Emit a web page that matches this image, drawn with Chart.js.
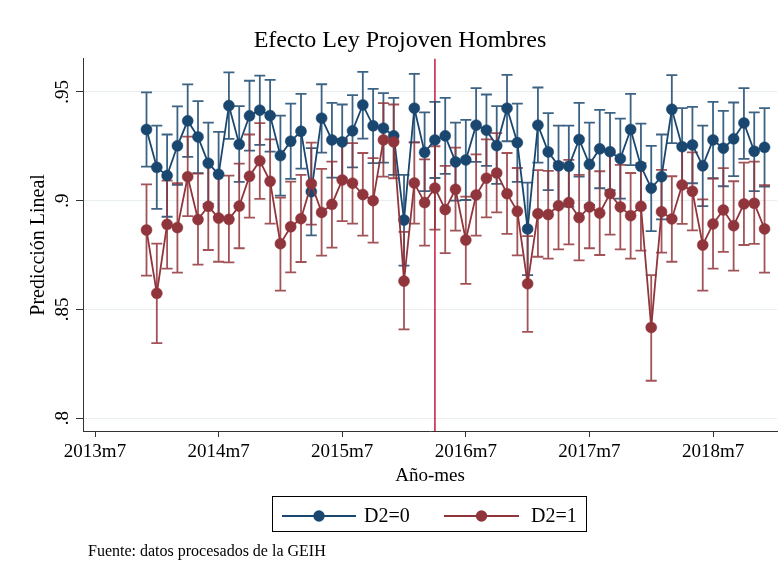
<!DOCTYPE html>
<html><head><meta charset="utf-8">
<script src="https://cdn.jsdelivr.net/npm/chart.js@4/dist/chart.umd.min.js"></script>
<style>html,body{margin:0;padding:0;background:#fff;overflow:hidden}canvas{display:block}</style>
</head><body>
<canvas id="c" width="784" height="581"></canvas>
<script>
// ---------------- data ----------------
const monthLabels = [
 "2013m12","2014m1","2014m2","2014m3","2014m4","2014m5","2014m6","2014m7","2014m8","2014m9","2014m10","2014m11","2014m12",
 "2015m1","2015m2","2015m3","2015m4","2015m5","2015m6","2015m7","2015m8","2015m9","2015m10","2015m11","2015m12",
 "2016m1","2016m2","2016m3","2016m4","2016m5","2016m6","2016m7","2016m8","2016m9","2016m10","2016m11","2016m12",
 "2017m1","2017m2","2017m3","2017m4","2017m5","2017m6","2017m7","2017m8","2017m9","2017m10","2017m11","2017m12",
 "2018m1","2018m2","2018m3","2018m4","2018m5","2018m6","2018m7","2018m8","2018m9","2018m10","2018m11","2018m12"];
const seriesNames = ["D2=0","D2=1"];
const d0 = [0.9327,0.9153,0.9115,0.9252,0.9367,0.9293,0.9172,0.9121,0.9437,0.9259,
 0.9390,0.9416,0.9391,0.9207,0.9273,0.9319,0.9041,0.9379,0.9279,0.9270,
 0.9321,0.9440,0.9344,0.9333,0.9298,0.8911,0.9425,0.9222,0.9279,0.9298,
 0.9178,0.9187,0.9347,0.9324,0.9253,0.9425,0.9267,0.8870,0.9347,0.9224,
 0.9160,0.9158,0.9281,0.9167,0.9238,0.9225,0.9193,0.9327,0.9158,0.9057,
 0.9110,0.9420,0.9248,0.9256,0.9160,0.9279,0.9241,0.9284,0.9357,0.9227,
 0.9245];
const d0Hi = [0.9498,0.9345,0.9304,0.9433,0.9534,0.9457,0.9359,0.9316,0.9590,0.9434,
 0.9551,0.9575,0.9555,0.9391,0.9446,0.9491,0.9241,0.9535,0.9449,0.9442,
 0.9485,0.9592,0.9514,0.9494,0.9472,0.9118,0.9583,0.9406,0.9454,0.9472,
 0.9359,0.9371,0.9517,0.9488,0.9434,0.9578,0.9446,0.9083,0.9520,0.9402,
 0.9345,0.9345,0.9449,0.9359,0.9417,0.9403,0.9377,0.9491,0.9354,0.9252,
 0.9304,0.9577,0.9425,0.9431,0.9345,0.9454,0.9413,0.9451,0.9517,0.9406,
 0.9425];
const d0Lo = [0.9156,0.8962,0.8926,0.9072,0.9201,0.9126,0.8985,0.8926,0.9284,0.9086,
 0.9230,0.9256,0.9225,0.9023,0.9100,0.9147,0.8840,0.9221,0.9106,0.9101,
 0.9153,0.9285,0.9172,0.9175,0.9118,0.8701,0.9268,0.9044,0.9104,0.9123,
 0.9000,0.9003,0.9178,0.9160,0.9077,0.9273,0.9086,0.8658,0.9175,0.9048,
 0.8977,0.8972,0.9110,0.8980,0.9057,0.9048,0.9009,0.9163,0.8965,0.8860,
 0.8914,0.9264,0.9071,0.9080,0.8975,0.9103,0.9066,0.9113,0.9192,0.9044,
 0.9064];
const d1 = [0.8865,0.8574,0.8891,0.8876,0.9110,0.8913,0.8974,0.8920,0.8914,0.8975,
 0.9112,0.9183,0.9089,0.8802,0.8880,0.8917,0.9078,0.8946,0.8983,0.9095,
 0.9080,0.9028,0.9000,0.9279,0.9270,0.8630,0.9081,0.8991,0.9058,0.8959,
 0.9052,0.8819,0.9026,0.9103,0.9127,0.9032,0.8951,0.8618,0.8940,0.8936,
 0.8977,0.8991,0.8922,0.8971,0.8943,0.9032,0.8971,0.8931,0.8974,0.8417,
 0.8949,0.8916,0.9072,0.9043,0.8796,0.8893,0.8957,0.8885,0.8985,0.8988,
 0.8870];
const d1Hi = [0.9075,0.8802,0.9092,0.9080,0.9294,0.9124,0.9179,0.9126,0.9115,0.9170,
 0.9304,0.9356,0.9282,0.9014,0.9087,0.9118,0.9267,0.9146,0.9179,0.9284,
 0.9264,0.9219,0.9195,0.9448,0.9442,0.8856,0.9268,0.9190,0.9250,0.9160,
 0.9244,0.9018,0.9213,0.9282,0.9310,0.9219,0.9150,0.8837,0.9140,0.9137,
 0.9175,0.9187,0.9118,0.9167,0.9135,0.9222,0.9164,0.9127,0.9172,0.8658,
 0.9141,0.9112,0.9258,0.9222,0.9006,0.9101,0.9149,0.9089,0.9175,0.9179,
 0.9071];
const d1Lo = [0.8655,0.8345,0.8687,0.8669,0.8929,0.8706,0.8773,0.8719,0.8716,0.8781,
 0.8922,0.9008,0.8894,0.8586,0.8670,0.8718,0.8890,0.8747,0.8784,0.8906,
 0.8894,0.8839,0.8807,0.9110,0.9103,0.8408,0.8894,0.8793,0.8867,0.8759,
 0.8862,0.8617,0.8839,0.8923,0.8946,0.8847,0.8748,0.8397,0.8742,0.8733,
 0.8776,0.8799,0.8725,0.8781,0.8750,0.8844,0.8776,0.8733,0.8770,0.8172,
 0.8761,0.8719,0.8893,0.8863,0.8586,0.8687,0.8764,0.8678,0.8796,0.8801,
 0.8669];
const xTickLabels = ["2013m7","2014m7","2015m7","2016m7","2017m7","2018m7"];
const yTicks = [0.8, 0.85, 0.9, 0.95];
const yTickLabels = [".8", ".85", ".9", ".95"];
const policyMonth = "2016m4";
const titleText = "Efecto Ley Projoven Hombres";
const xTitle = "Año-mes";
const yTitle = "Predicción Lineal";
const noteText = "Fuente: datos procesados de la GEIH";

// ---------------- helpers ----------------
function mIndex(s){ const p = s.split("m"); return (+p[0] - 1960) * 12 + (+p[1] - 1); }
const SERIF = "'Liberation Serif','Times New Roman',serif";
const BLUE = "#1a476f", RED = "#90353b";
const BLUE_CI = "rgba(26,71,111,0.85)", RED_CI = "rgba(144,53,59,0.85)";
const LINE_RED = "#c8193c";

const errorBars = {
  id: "errorBars",
  beforeDatasetsDraw(chart) {
    const ctx = chart.ctx, xs = chart.scales.x, ys = chart.scales.y, a = chart.chartArea;
    ctx.save();
    // policy line
    const px = xs.getPixelForValue(mIndex(policyMonth));
    ctx.strokeStyle = LINE_RED; ctx.lineWidth = 1.5;
    ctx.beginPath(); ctx.moveTo(px, a.top); ctx.lineTo(px, a.bottom); ctx.stroke();
    // CI caps
    chart.data.datasets.forEach(ds => {
      ctx.strokeStyle = ds.ciColor; ctx.lineWidth = 1.8;
      ds.data.forEach((pt, i) => {
        const x = xs.getPixelForValue(pt.x);
        const y1 = ys.getPixelForValue(ds.hi[i]), y2 = ys.getPixelForValue(ds.lo[i]);
        ctx.beginPath();
        ctx.moveTo(x, y1); ctx.lineTo(x, y2);
        ctx.moveTo(x - 5.5, y1); ctx.lineTo(x + 5.5, y1);
        ctx.moveTo(x - 5.5, y2); ctx.lineTo(x + 5.5, y2);
        ctx.stroke();
      });
    });
    ctx.restore();
  },
  afterDraw(chart) {
    const ctx = chart.ctx, ys = chart.scales.y;
    ctx.save();
    // y tick labels, rotated like Stata
    ctx.fillStyle = "#000"; ctx.font = "19px " + SERIF;
    ctx.textAlign = "center"; ctx.textBaseline = "alphabetic";
    yTicks.forEach((v, i) => {
      const y = ys.getPixelForValue(v);
      ctx.save(); ctx.translate(68, y); ctx.rotate(-Math.PI / 2);
      ctx.fillText(yTickLabels[i], 0, 0); ctx.restore();
    });
    // legend box
    ctx.strokeStyle = "#000"; ctx.lineWidth = 1;
    ctx.strokeRect(272.5, 496.5, 314, 35);
    const items = [{x0: 282, x1: 356, tx: 364}, {x0: 444, x1: 519, tx: 531}];
    chart.data.datasets.forEach((ds, k) => {
      const it = items[k], yc = 516;
      ctx.strokeStyle = ds.borderColor; ctx.lineWidth = 1.8;
      ctx.beginPath(); ctx.moveTo(it.x0, yc); ctx.lineTo(it.x1, yc); ctx.stroke();
      ctx.fillStyle = ds.backgroundColor;
      ctx.beginPath(); ctx.arc((it.x0 + it.x1) / 2, yc, 5.7, 0, Math.PI * 2); ctx.fill();
      ctx.fillStyle = "#000"; ctx.font = "20px " + SERIF;
      ctx.textAlign = "left"; ctx.textBaseline = "middle";
      ctx.fillText(ds.label, it.tx, yc + 1);
    });
    // note
    ctx.font = "16px " + SERIF; ctx.textAlign = "left"; ctx.textBaseline = "alphabetic";
    ctx.fillText(noteText, 88, 556);
    ctx.restore();
  }
};

const xs0 = monthLabels.map(mIndex);
new Chart(document.getElementById("c"), {
  type: "line",
  data: {
    datasets: [
      {label: seriesNames[0], data: xs0.map((x, i) => ({x, y: d0[i]})), lo: d0Lo, hi: d0Hi,
       borderColor: BLUE, backgroundColor: BLUE, ciColor: BLUE_CI, borderWidth: 1.8,
       pointRadius: 5.5, pointBorderWidth: 0.5, pointBackgroundColor: BLUE, pointBorderColor: BLUE, order: 2, tension: 0},
      {label: seriesNames[1], data: xs0.map((x, i) => ({x, y: d1[i]})), lo: d1Lo, hi: d1Hi,
       borderColor: RED, backgroundColor: RED, ciColor: RED_CI, borderWidth: 1.8,
       pointRadius: 5.5, pointBorderWidth: 0.5, pointBackgroundColor: RED, pointBorderColor: RED, order: 1, tension: 0}
    ]
  },
  options: {
    responsive: false, animation: false, devicePixelRatio: 1,
    layout: {padding: {left: 23, right: 7, top: 0, bottom: 93.6}},
    plugins: {
      legend: {display: false}, tooltip: {enabled: false},
      title: {display: true, text: titleText, color: "#000",
              font: {family: SERIF, size: 24, weight: "normal"}, padding: {top: 26.5, bottom: 3.5}}
    },
    scales: {
      x: {
        type: "linear", min: 640.835, max: 708.21,
        afterBuildTicks: s => { s.ticks = xTickLabels.map(l => ({value: mIndex(l)})); },
        ticks: {callback: (v, i) => xTickLabels[i], color: "#000", font: {family: SERIF, size: 19},
                padding: 4, maxRotation: 0, autoSkip: false},
        grid: {drawOnChartArea: false, drawTicks: true, tickLength: 6, tickColor: "#333", tickWidth: 1},
        border: {color: "#333", width: 1},
        title: {display: true, text: xTitle, color: "#000", font: {family: SERIF, size: 19}, padding: 0},
        afterFit: s => { s.height = 56.4; }
      },
      y: {
        min: 0.7941, max: 0.9652,
        afterBuildTicks: s => { s.ticks = yTicks.map(v => ({value: v})); },
        ticks: {display: false},
        grid: {color: "#e6eef0", lineWidth: 1, drawTicks: true, tickLength: 7, tickColor: "#333", tickWidth: 1},
        border: {color: "#333", width: 1},
        title: {display: true, text: yTitle, color: "#000", font: {family: SERIF, size: 20}, padding: {top: 4, bottom: 0}},
        afterFit: s => { s.width = 60; }
      }
    }
  },
  plugins: [errorBars]
});
</script>
</body></html>
